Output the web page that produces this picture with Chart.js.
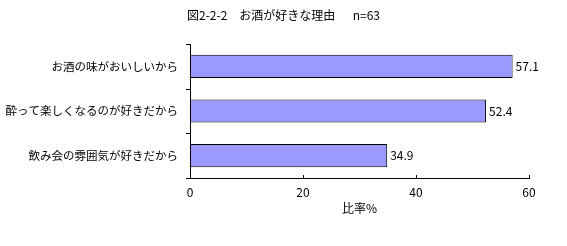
<!DOCTYPE html>
<html>
<head>
<meta charset="utf-8">
<script src="https://cdn.jsdelivr.net/npm/chart.js@4/dist/chart.umd.min.js"></script>
<style>
  html, body { margin: 0; padding: 0; background: #fff; }
  #wrap { width: 567px; height: 246px; }
</style>
</head>
<body>
<div id="wrap"><canvas id="reasonChart" width="567" height="246"></canvas></div>
<script>
// data
const categories = ['お酒の味がおいしいから', '酔って楽しくなるのが好きだから', '飲み会の雰囲気が好きだから'];
const ratios = [57.1, 52.4, 34.9];
const xTicks = [0, 20, 40, 60];

const chartTitle = '図2-2-2　お酒が好きな理由　  n=63';
const xTitle = '比率%';

const FONT = '"Noto Sans CJK JP", "MS Gothic", sans-serif';

// title centred on the whole canvas (the plot itself sits off-centre)
const pageTitle = {
    id: 'pageTitle',
    afterDraw(chart) {
        const ctx = chart.ctx;
        ctx.save();
        ctx.font = '12px ' + FONT;
        ctx.fillStyle = '#000';
        ctx.textAlign = 'center';
        ctx.textBaseline = 'middle';
        ctx.fillText(chartTitle, chart.width / 2, 15);
        ctx.restore();
    }
};

// value labels at the end of each bar
const valueLabels = {
    id: 'valueLabels',
    afterDatasetsDraw(chart) {
        const ctx = chart.ctx;
        const meta = chart.getDatasetMeta(0);
        ctx.save();
        ctx.font = '12px ' + FONT;
        ctx.fillStyle = '#000';
        ctx.textAlign = 'left';
        ctx.textBaseline = 'middle';
        meta.data.forEach((bar, i) => {
            ctx.fillText(ratios[i].toFixed(1), bar.x + 3, bar.y);
        });
        ctx.restore();
    }
};

// small tick marks: x axis pointing into the plot, y axis pointing out at band edges
const axisTicks = {
    id: 'axisTicks',
    afterDraw(chart) {
        const ctx = chart.ctx;
        const xScale = chart.scales.x;
        const yScale = chart.scales.y;
        const area = chart.chartArea;
        ctx.save();
        ctx.strokeStyle = '#000';
        ctx.lineWidth = 1;
        xTicks.forEach(v => {
            const x = Math.round(xScale.getPixelForValue(v)) + 0.5;
            ctx.beginPath();
            ctx.moveTo(x, area.bottom);
            ctx.lineTo(x, area.bottom - 3);
            ctx.stroke();
        });
        for (let i = 0; i <= categories.length; i++) {
            const y = Math.round(yScale.getPixelForValue(i - 0.5)) + 0.5;
            ctx.beginPath();
            ctx.moveTo(area.left, y);
            ctx.lineTo(area.left - 4, y);
            ctx.stroke();
        }
        ctx.restore();
    }
};

const ctx = document.getElementById('reasonChart').getContext('2d');
new Chart(ctx, {
    type: 'bar',
    data: {
        labels: categories,
        datasets: [{
            data: ratios,
            backgroundColor: '#9999ff',
            borderColor: '#000',
            borderWidth: 1,
            borderSkipped: false,
            categoryPercentage: 1,
            barPercentage: 0.52
        }]
    },
    options: {
        indexAxis: 'y',
        responsive: false,
        animation: false,
        devicePixelRatio: 1,
        layout: { padding: { left: 0, right: 38, top: 44, bottom: 0 } },
        scales: {
            x: {
                min: 0,
                max: 60,
                afterBuildTicks: s => { s.ticks = xTicks.map(v => ({ value: v })); },
                afterFit: s => { s.height = 68; },
                grid: { display: false, drawTicks: false },
                border: { display: true, color: '#000', width: 1 },
                ticks: { color: '#000', font: { family: FONT, size: 12 }, padding: 7, maxRotation: 0 },
                title: { display: true, text: xTitle, color: '#000', font: { family: FONT, size: 12 }, padding: { top: 0, bottom: 30 } }
            },
            y: {
                afterFit: s => { s.width = 190; },
                grid: { display: false, drawTicks: false },
                border: { display: true, color: '#000', width: 1 },
                ticks: { color: '#000', font: { family: FONT, size: 11.5 }, padding: 12 }
            }
        },
        plugins: {
            legend: { display: false },
            tooltip: { enabled: false },
            title: { display: false }
        }
    },
    plugins: [valueLabels, axisTicks, pageTitle]
});
</script>
</body>
</html>
